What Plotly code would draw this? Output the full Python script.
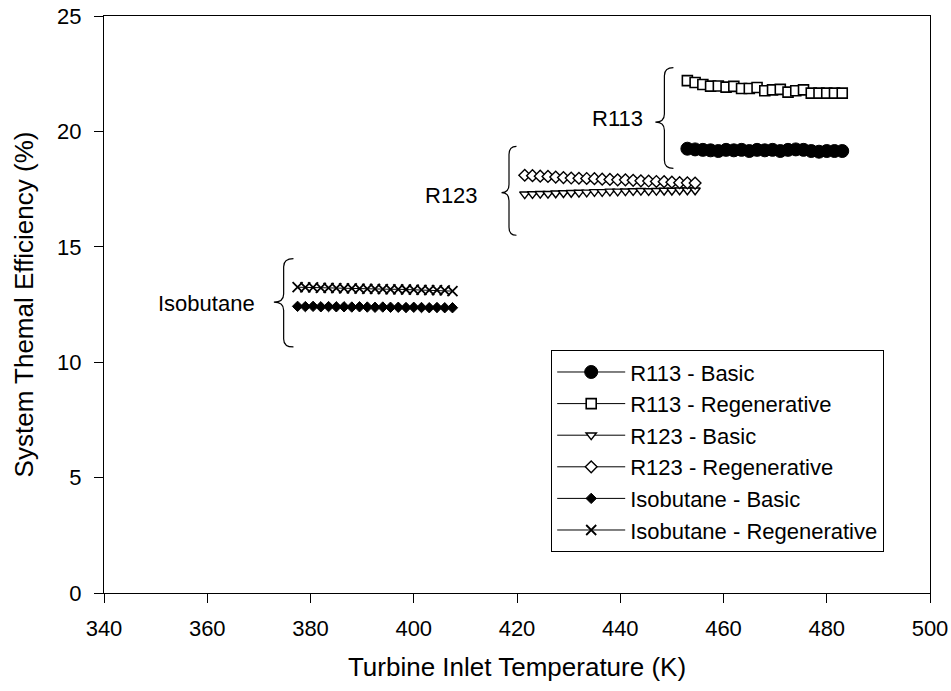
import plotly.graph_objects as go

# Turbine inlet temperatures (K)
r113_temp = [453.0, 454.5, 456.0, 457.5, 459.0, 460.5, 462.0, 463.5, 465.0, 466.5, 468.0,
             469.5, 471.0, 472.5, 474.0, 475.5, 477.0, 478.5, 480.0, 481.5, 483.0]
r123_temp = [421.5, 423.0, 424.5, 426.0, 427.5, 429.0, 430.5, 432.0, 433.5, 435.0, 436.5, 438.0,
             439.5, 441.0, 442.5, 444.0, 445.5, 447.0, 448.5, 450.0, 451.5, 453.0, 454.5]
iso_temp = [377.5, 379.0, 380.5, 382.0, 383.5, 385.0, 386.5, 388.0, 389.5, 391.0, 392.5,
            394.0, 395.5, 397.0, 398.5, 400.0, 401.5, 403.0, 404.5, 406.0, 407.5]

# System thermal efficiency (%)
r113_basic = [19.25, 19.22, 19.20, 19.18, 19.15, 19.20, 19.18, 19.20, 19.15, 19.20, 19.18,
              19.20, 19.15, 19.20, 19.22, 19.20, 19.15, 19.12, 19.15, 19.15, 19.15]
r113_regen = [22.20, 22.12, 22.03, 21.96, 21.97, 21.92, 21.95, 21.86, 21.86, 21.90, 21.76,
              21.80, 21.82, 21.70, 21.76, 21.80, 21.66, 21.66, 21.66, 21.66, 21.66]
r123_basic = [17.28, 17.29, 17.30, 17.30, 17.32, 17.33, 17.34, 17.35, 17.36, 17.38, 17.38, 17.40,
              17.40, 17.41, 17.42, 17.43, 17.42, 17.43, 17.44, 17.44, 17.45, 17.45, 17.45]
r123_regen = [18.10, 18.08, 18.06, 18.05, 18.02, 18.00, 17.98, 17.97, 17.96, 17.95, 17.93, 17.92,
              17.90, 17.90, 17.88, 17.86, 17.85, 17.83, 17.82, 17.80, 17.78, 17.77, 17.76]
iso_basic = [12.42, 12.41, 12.42, 12.40, 12.41, 12.40, 12.40, 12.39, 12.40, 12.39, 12.38,
             12.39, 12.38, 12.38, 12.37, 12.38, 12.37, 12.36, 12.37, 12.36, 12.36]
iso_regen = [13.25, 13.24, 13.24, 13.22, 13.22, 13.21, 13.20, 13.20, 13.19, 13.18, 13.18,
             13.17, 13.16, 13.16, 13.15, 13.14, 13.13, 13.12, 13.12, 13.11, 13.08]

x_ticks = [340, 360, 380, 400, 420, 440, 460, 480, 500]
y_ticks = [0, 5, 10, 15, 20, 25]

FONT = "Liberation Sans, Arial, sans-serif"

series = [
    ("R113 - Basic", r113_temp, r113_basic, dict(symbol="circle", size=13, color="black",
                                                  line=dict(color="black", width=1))),
    ("R113 - Regenerative", r113_temp, r113_regen, dict(symbol="square", size=10, color="white",
                                                         line=dict(color="black", width=1.6))),
    ("R123 - Basic", r123_temp, r123_basic, dict(symbol="triangle-down", size=9, color="white",
                                                  line=dict(color="black", width=1.4))),
    ("R123 - Regenerative", r123_temp, r123_regen, dict(symbol="diamond", size=9, color="white",
                                                         line=dict(color="black", width=1.4))),
    ("Isobutane - Basic", iso_temp, iso_basic, dict(symbol="diamond", size=8, color="black",
                                                     line=dict(color="black", width=1))),
    ("Isobutane - Regenerative", iso_temp, iso_regen, dict(symbol="x-thin-open", size=10,
                                                            color="black",
                                                            line=dict(color="black", width=1.8))),
]

fig = go.Figure()
for name, xs, ys, mk in series:
    fig.add_trace(go.Scatter(
        x=xs, y=ys, name=name, mode="lines+markers",
        line=dict(color="black", width=1),
        marker=mk,
    ))


def brace_path(x, y_top, y_bot, y_tip, w, r):
    """Left-facing curly brace: vertical spine at x + w/2, tip at (x, y_tip)."""
    xs = x + w / 2
    xe = x + w
    return (f"M{xe},{y_top} Q{xs},{y_top} {xs},{y_top - r} "
            f"L{xs},{y_tip + r} Q{xs},{y_tip} {x},{y_tip} "
            f"Q{xs},{y_tip} {xs},{y_tip - r} "
            f"L{xs},{y_bot + r} Q{xs},{y_bot} {xe},{y_bot}")


# Group brackets: label, label x (right edge), label y, brace tip x, top, bottom, tip y, width
groups = [
    ("R113", 444.8, 20.56, 446.8, 22.76, 18.40, 20.40, 3.5),
    ("R123", 412.9, 17.23, 417.0, 19.35, 15.50, 17.35, 2.9),
    ("Isobutane", 369.7, 12.55, 372.9, 14.49, 10.66, 12.60, 3.8),
]
shapes = []
annotations = []
for label, lx, ly, bx, yt, yb, ytip, w in groups:
    shapes.append(dict(type="path", xref="x", yref="y",
                       path=brace_path(bx, yt, yb, ytip, w, 0.35),
                       line=dict(color="black", width=1.2)))
    annotations.append(dict(x=lx, y=ly, xref="x", yref="y",
                            text=label, showarrow=False, xanchor="right",
                            yanchor="middle", font=dict(family=FONT, size=22, color="black")))

fig.update_layout(
    width=951, height=691,
    margin=dict(l=104, r=21, t=16, b=98, autoexpand=False),
    paper_bgcolor="white", plot_bgcolor="white",
    font=dict(family=FONT, size=22, color="black"),
    showlegend=True,
    legend=dict(
        x=0.5414, y=0.4208, xanchor="left", yanchor="top",
        bordercolor="black", borderwidth=1, bgcolor="white",
        font=dict(family=FONT, size=22, color="black"),
        itemwidth=68,
    ),
    shapes=shapes,
    annotations=annotations,
    xaxis=dict(
        range=[340, 500], tickvals=x_ticks, ticks="outside", ticklen=9,
        tickcolor="black", showline=True, linecolor="black", linewidth=1.2,
        mirror=True, showgrid=False, zeroline=False, automargin=False,
        tickfont=dict(family=FONT, size=22), ticklabelstandoff=6,
        title=dict(text="Turbine Inlet Temperature (K)",
                   font=dict(family=FONT, size=26), standoff=18),
    ),
    yaxis=dict(
        range=[0, 25], tickvals=y_ticks, ticks="outside", ticklen=9,
        tickcolor="black", showline=True, linecolor="black", linewidth=1.2,
        mirror=True, showgrid=False, zeroline=False, automargin=False,
        tickfont=dict(family=FONT, size=22), ticklabelstandoff=8,
        title=dict(text="System Themal Efficiency (%)",
                   font=dict(family=FONT, size=26), standoff=15),
    ),
)

fig.write_html("out.html")
